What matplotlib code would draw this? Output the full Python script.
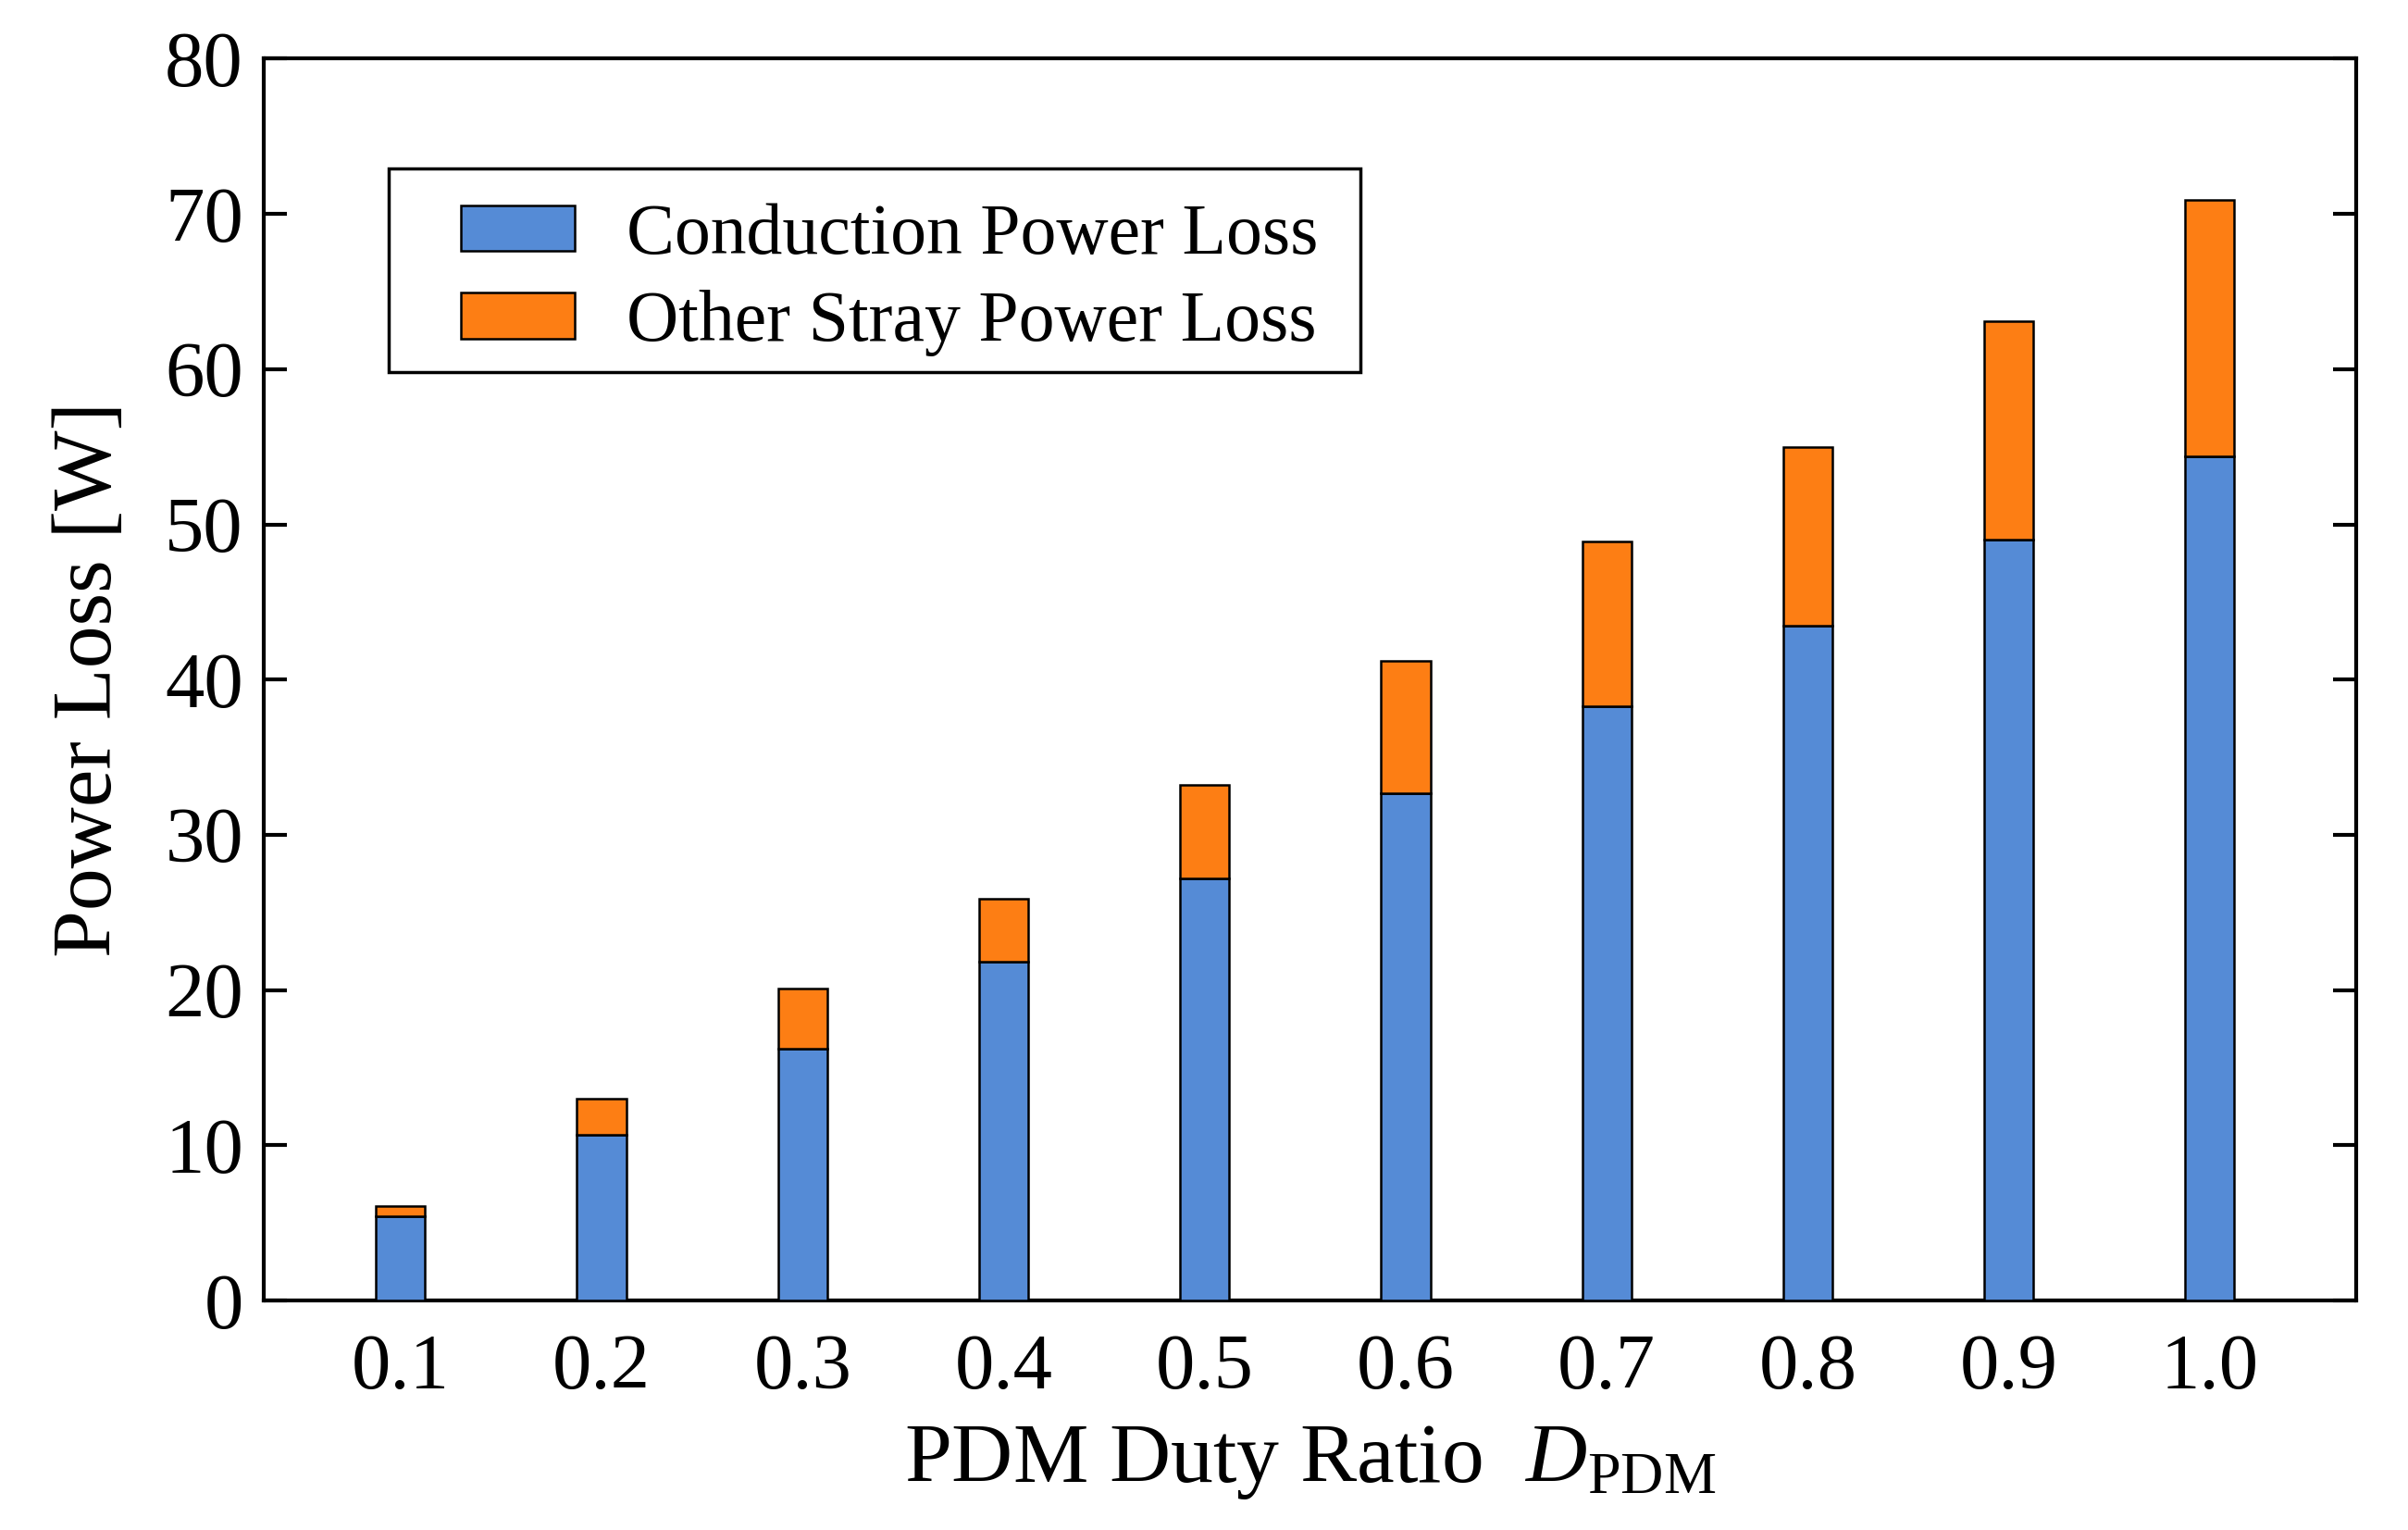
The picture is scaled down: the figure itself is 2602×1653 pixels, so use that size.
import matplotlib
matplotlib.use("Agg")
import matplotlib.pyplot as plt
from matplotlib.patches import Rectangle
import numpy as np

# PDM duty ratio categories
duty_labels = ["0.1", "0.2", "0.3", "0.4", "0.5", "0.6", "0.7", "0.8", "0.9", "1.0"]
# stacked losses [W]
conduction_loss = [5.4, 10.7, 16.2, 21.8, 27.2, 32.7, 38.3, 43.5, 49.0, 54.4]
total_loss      = [6.1, 13.0, 20.1, 25.9, 33.2, 41.2, 48.9, 55.0, 63.1, 70.9]
stray_loss = [t - c for t, c in zip(total_loss, conduction_loss)]
y_ticks = [0, 10, 20, 30, 40, 50, 60, 70, 80]

plt.rcParams['font.family'] = ['Liberation Serif', 'DejaVu Serif']
plt.rcParams['mathtext.fontset'] = 'custom'
plt.rcParams['mathtext.rm'] = 'Liberation Serif'
plt.rcParams['mathtext.it'] = 'Liberation Serif:italic'

fig = plt.figure(figsize=(26.02, 16.53), dpi=100)
ax = fig.add_axes([0.1096, 0.150, 0.869, 0.8116])

x = np.arange(len(duty_labels))
ax.bar(x, conduction_loss, width=0.245, color='#558bd6', edgecolor='black',
       linewidth=1.8, label='Conduction Power Loss', zorder=3)
ax.bar(x, stray_loss, width=0.245, bottom=conduction_loss, color='#fd7e14',
       edgecolor='black', linewidth=1.8, label='Other Stray Power Loss', zorder=3)

ax.set_xlim(-0.68, 9.73)
ax.set_ylim(0, 80)
ax.set_xticks(x)
ax.set_xticklabels(duty_labels)
ax.set_yticks(y_ticks)

ax.tick_params(axis='x', length=0, pad=26, labelsize=61)
ax.tick_params(axis='y', direction='in', length=18, width=3, pad=16,
               labelsize=61, right=True)
for sp in ax.spines.values():
    sp.set_linewidth(3)

ax.set_ylabel('Power Loss [W]', fontsize=66, labelpad=28)
ax.set_xlabel(r'PDM Duty Ratio  $\mathit{D}_{\mathrm{PDM}}$', fontsize=66, labelpad=14)

# legend box drawn separately so the inner padding can match the original
ax.add_patch(Rectangle((0.0595, 0.748), 0.4647, 0.164, transform=ax.transAxes,
                       facecolor='white', edgecolor='black', linewidth=2.5, zorder=5))
leg = ax.legend(loc='center left', bbox_to_anchor=(0.094, 0.822), fontsize=56,
                frameon=False, handlelength=1.58, handleheight=0.6,
                handletextpad=0.73, borderpad=0, labelspacing=0.29, borderaxespad=0)
leg.set_zorder(6)

fig.savefig('out.png', dpi=100)
